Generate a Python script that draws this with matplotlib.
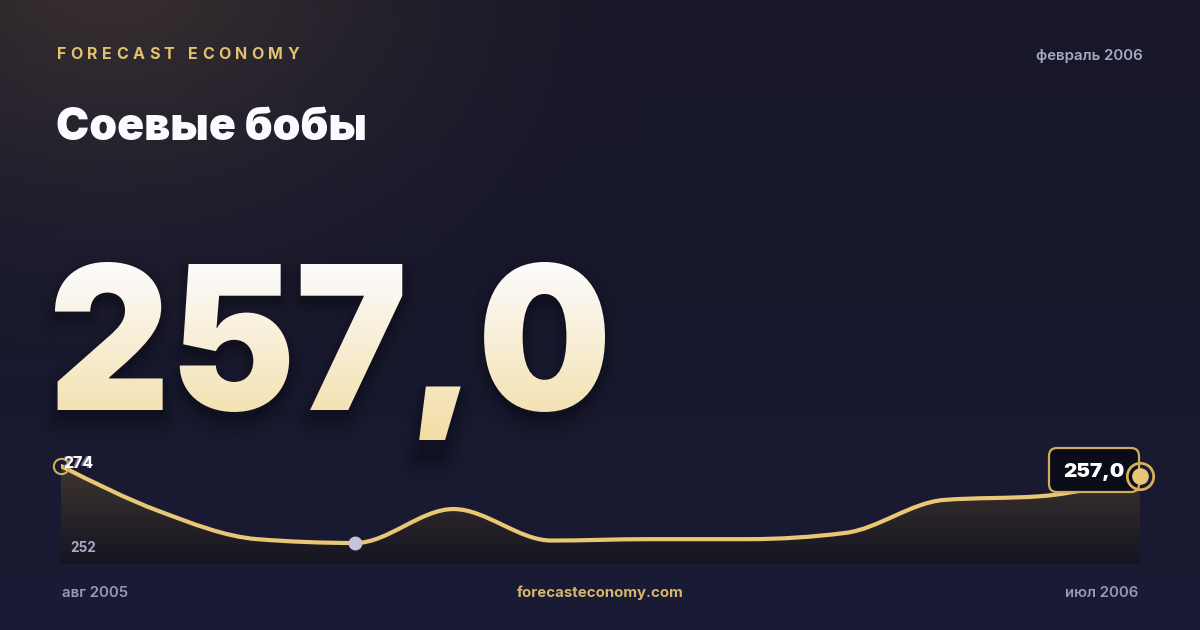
import numpy as np
import matplotlib
matplotlib.use('Agg')
import matplotlib.pyplot as plt
from matplotlib.path import Path
from matplotlib.patches import PathPatch, FancyBboxPatch
from matplotlib.textpath import TextPath
from matplotlib.font_manager import FontProperties
from matplotlib.transforms import Affine2D

# ---------------- data ----------------
months = ['авг 2005', 'сен 2005', 'окт 2005', 'ноя 2005', 'дек 2005', 'янв 2006',
          'фев 2006', 'мар 2006', 'апр 2006', 'май 2006', 'июн 2006', 'июл 2006']
values = [274.0, 261.1, 253.1, 252.0, 261.7, 252.7, 253.1, 253.1, 254.9, 264.3, 265.4, 271.1]
headline = '257,0'
title = 'Соевые бобы'
brand = 'FORECAST ECONOMY'
date_label = 'февраль 2006'
site = 'forecasteconomy.com'
max_label = '274'
min_label = '252'

GOLD = '#e9c775'
FONT = 'Inter'

W, H = 1200, 630
fig = plt.figure(figsize=(12, 6.3), dpi=100)
bg = fig.add_axes([0, 0, 1, 1])
bg.set_xlim(0, W)
bg.set_ylim(H, 0)
bg.axis('off')

# ---------------- background ----------------
yy, xx = np.mgrid[0:H, 0:W].astype(float)
t = yy / H
base = np.zeros((H, W, 3))
top_c = np.array([23, 23, 40]) / 255
bot_c = np.array([26, 27, 52]) / 255
for k in range(3):
    base[..., k] = top_c[k] * (1 - t) + bot_c[k] * t
d = np.sqrt(((xx - 110) / 620) ** 2 + ((yy + 30) / 430) ** 2)
g = np.clip(1 - d, 0, 1) ** 1.7
glow = np.array([36, 26, 8]) / 255
for k in range(3):
    base[..., k] += glow[k] * g
bg.imshow(np.clip(base, 0, 1), extent=[0, W, H, 0], zorder=0, interpolation='bilinear', aspect='auto')
bg.set_xlim(0, W)
bg.set_ylim(H, 0)

def px(v):
    return v * 0.72

# ---------------- top texts ----------------
renderer = fig.canvas.get_renderer()
xpos = 57.0
track = 4.4
for ch in brand:
    tt = bg.text(xpos, 59, ch, fontsize=px(16), fontweight=700, family=FONT,
                 color='#e2c170', va='baseline', ha='left')
    if ch == ' ':
        w = 4.5
    else:
        bb = tt.get_window_extent(renderer)
        w = bb.width
    xpos += w + track

bg.text(1143, 60, date_label, fontsize=px(15), fontweight=600, family=FONT,
        color='#a6a8c6', va='baseline', ha='right')

bg.text(56, 140, title, fontsize=px(44.5), fontweight=900, family=FONT,
        color='#fafbff', va='baseline', ha='left')

# ---------------- big headline number ----------------
fp = FontProperties(family=FONT, weight=900)
ref = TextPath((0, 0), '2', size=100, prop=fp).get_extents()
tp = TextPath((0, 0), headline, size=100, prop=fp)
ext = tp.get_extents()
sy = 148.0 / ref.ymax
sx = (605.0 - 55.0) / ext.width
x0 = 55.0
base_y = 410.0
tr = Affine2D().scale(sx, -sy).translate(x0 - ext.xmin * sx, base_y)
big_path = tr.transform_path(tp)

# soft shadow
for dy, lw, a in [(10, 28, 0.035), (9, 20, 0.045), (8, 13, 0.06), (7, 7, 0.08)]:
    sh = Affine2D().translate(0, dy).transform_path(big_path)
    bg.add_patch(PathPatch(sh, fc=(0.02, 0.02, 0.06, a), ec=(0.02, 0.02, 0.06, a),
                           lw=lw, zorder=2, joinstyle='round'))

clip_patch = PathPatch(big_path, fc='none', ec='none', transform=bg.transData)
bg.add_patch(clip_patch)
grad_n = 256
gt = np.linspace(0, 1, grad_n)[:, None]
c_top = np.array([253, 253, 255]) / 255
c_bot = np.array([242, 221, 165]) / 255
grad = np.zeros((grad_n, 1, 3))
for k in range(3):
    grad[..., k] = c_top[k] * (1 - gt) + c_bot[k] * gt
im = bg.imshow(grad, extent=[0, W, 440, 258], zorder=3, aspect='auto', interpolation='bilinear')
im.set_clip_path(clip_patch)
bg.set_xlim(0, W)
bg.set_ylim(H, 0)

# ---------------- bottom texts ----------------
bg.text(62, 597, months[0], fontsize=px(15), fontweight=600, family=FONT,
        color='#9799b9', va='baseline', ha='left')
bg.text(1138, 597, months[-1], fontsize=px(15), fontweight=600, family=FONT,
        color='#9799b9', va='baseline', ha='right')
bg.text(600, 597, site, fontsize=px(15), fontweight=700, family=FONT,
        color='#d6b66a', va='baseline', ha='center')

# ---------------- sparkline ----------------
y_bot_px, y_top_px = 564, 446
v_lo = 274 - (y_bot_px - 466) * 22 / 77
v_hi = 274 + (466 - y_top_px) * 22 / 77
ax = fig.add_axes([61 / W, (H - y_bot_px) / H, (1140 - 61) / W, (y_bot_px - y_top_px) / H])
ax.axis('off')

xs = np.arange(len(values), dtype=float)
ys = np.array(values, dtype=float)

# monotone-x tangents (d3 curveMonotoneX)
n = len(xs)
h = np.diff(xs)
sec = np.diff(ys) / h
tan = np.zeros(n)
for i in range(1, n - 1):
    s0, s1 = sec[i - 1], sec[i]
    p = (s0 * h[i] + s1 * h[i - 1]) / (h[i - 1] + h[i])
    tan[i] = (np.sign(s0) + np.sign(s1)) * min(abs(s0), abs(s1), 0.5 * abs(p))
tan[0] = (3 * sec[0] - tan[1]) / 2
tan[-1] = (3 * sec[-1] - tan[-2]) / 2

verts = [(xs[0], ys[0])]
codes = [Path.MOVETO]
for i in range(n - 1):
    dx = (xs[i + 1] - xs[i]) / 3
    verts += [(xs[i] + dx, ys[i] + dx * tan[i]),
              (xs[i + 1] - dx, ys[i + 1] - dx * tan[i + 1]),
              (xs[i + 1], ys[i + 1])]
    codes += [Path.CURVE4] * 3
line_path = Path(verts, codes)
area_path = Path(verts + [(xs[-1], v_lo), (xs[0], v_lo), (xs[0], ys[0])],
                 codes + [Path.LINETO, Path.LINETO, Path.CLOSEPOLY])

area_patch = PathPatch(area_path, fc='none', ec='none', transform=ax.transData)
ax.add_patch(area_patch)
an = 128
at = np.linspace(0, 1, an)[:, None]
a_top = np.array([62, 53, 48]) / 255
a_bot = np.array([21, 20, 33]) / 255
agrad = np.zeros((an, 1, 3))
for k in range(3):
    agrad[..., k] = a_top[k] * (1 - at) + a_bot[k] * at
aim = ax.imshow(agrad, extent=[xs[0], xs[-1], v_lo, max(values)], aspect='auto',
                interpolation='bilinear', zorder=1)
aim.set_clip_path(area_patch)

ax.add_patch(PathPatch(line_path, fc='none', ec=GOLD, lw=3.0, zorder=3,
                       capstyle='round', joinstyle='round'))

ax.set_xlim(xs[0], xs[-1])
ax.set_ylim(v_lo, v_hi)

imin = int(np.argmin(ys))
ax.plot(xs[imin], ys[imin], 'o', ms=9, color='#c2c5dc', zorder=6, clip_on=False)
ax.plot(xs[0], ys[0], 'o', ms=11, mfc='none', mec='#d2ad55', mew=1.5, zorder=6, clip_on=False)

# value box
ax.add_patch(FancyBboxPatch((1049, 448), 90, 44, boxstyle='round,pad=0,rounding_size=8',
                            fc='#0b0c19', ec='#d0ad5e', lw=1.6, transform=bg.transData,
                            zorder=5, clip_on=False))
ax.text(1094, 477, headline, fontsize=px(20.5), fontweight=900, family=FONT,
        color='white', ha='center', va='baseline', transform=bg.transData, zorder=7)

ax.plot(xs[-1], ys[-1], 'o', ms=19, mfc='none', mec='#d6b05a', mew=2, zorder=6, clip_on=False)
ax.plot(xs[-1], ys[-1], 'o', ms=11, color='#e7c678', zorder=6, clip_on=False)

# min / max labels
ax.text(61, 468, max_label, fontsize=px(16), fontweight=700, family=FONT,
        color='#8d8fae', ha='left', va='baseline', transform=bg.transData, zorder=7, alpha=0.8)
ax.text(63, 468, max_label, fontsize=px(16), fontweight=700, family=FONT,
        color='white', ha='left', va='baseline', transform=bg.transData, zorder=7)
ax.text(70, 552, min_label, fontsize=px(13.5), fontweight=700, family=FONT,
        color='#a7a9c6', ha='left', va='baseline', transform=bg.transData, zorder=7)

fig.savefig('out.png', dpi=100, facecolor='#17172a')
